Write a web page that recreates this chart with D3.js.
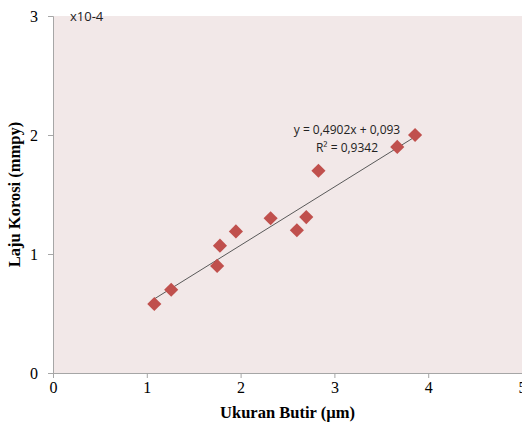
<!DOCTYPE html>
<html>
<head>
<meta charset="utf-8">
<script src="https://cdn.jsdelivr.net/npm/d3@7"></script>
<style>
  body { margin: 0; background: #fff; }
</style>
</head>
<body>
<svg></svg>
<script>
// ukuran butir (µm) dan laju korosi (x10-4 mmpy)
const ukuran = [1.08, 1.26, 1.75, 1.78, 1.95, 2.32, 2.60, 2.70, 2.83, 3.67, 3.86]
const laju = [0.58, 0.70, 0.90, 1.07, 1.19, 1.30, 1.20, 1.31, 1.70, 1.90, 2.00]
const xTicks = [0, 1, 2, 3, 4, 5]
const yTicks = [0, 1, 2, 3]
const slope = 0.4902
const intercept = 0.093

const width = 522
const height = 430
const margin = {top: 16, right: 0, bottom: 57, left: 53}

const x = d3.scaleLinear().domain([0, 5]).range([margin.left, width - margin.right])
const y = d3.scaleLinear().domain([0, 3]).range([height - margin.bottom, margin.top])

const svg = d3.select('svg').attr('width', width).attr('height', height)

// area plot
svg.append('rect')
  .attr('x', x(0)).attr('y', y(3))
  .attr('width', x(5) - x(0)).attr('height', y(0) - y(3))
  .attr('fill', '#F2E8E8')

// sumbu
const xAxis = d3.axisBottom(x).tickValues(xTicks).tickSize(5).tickPadding(4).tickFormat(d3.format('d'))
const yAxis = d3.axisLeft(y).tickValues(yTicks).tickSize(5).tickPadding(10).tickFormat(d3.format('d'))

const gx = svg.append('g').attr('transform', `translate(0,${y(0)})`).call(xAxis)
const gy = svg.append('g').attr('transform', `translate(${x(0)},0)`).call(yAxis)

for (const g of [gx, gy]) {
  g.select('.domain').attr('stroke', '#A6A6A6')
  g.selectAll('.tick line').attr('stroke', '#A6A6A6')
  g.selectAll('.tick text')
    .attr('font-family', '"Liberation Serif", "Times New Roman", serif')
    .attr('font-size', 16).attr('fill', '#000')
}

// garis tren
const xmin = d3.min(ukuran), xmax = d3.max(ukuran)
svg.append('line')
  .attr('x1', x(xmin)).attr('y1', y(slope * xmin + intercept))
  .attr('x2', x(xmax)).attr('y2', y(slope * xmax + intercept))
  .attr('stroke', '#595959').attr('stroke-width', 1)

// titik data
const diamond = d3.symbol().type(d3.symbolSquare).size(100)
svg.append('g').selectAll('path').data(ukuran).enter().append('path')
  .attr('d', diamond)
  .attr('transform', (d, i) => `translate(${x(d)},${y(laju[i])}) rotate(45)`)
  .attr('fill', '#C0504D')

// persamaan
const eq = svg.append('text')
  .attr('font-family', '"Open Sans", "Liberation Sans", sans-serif')
  .attr('font-size', 12).attr('fill', '#222').attr('text-anchor', 'middle')
eq.append('tspan').attr('x', 347).attr('y', 134).text('y = 0,4902x + 0,093')
eq.append('tspan').attr('x', 347).attr('y', 152).text('R² = 0,9342')

svg.append('text')
  .attr('x', 70).attr('y', 21)
  .attr('font-family', '"Open Sans", "Liberation Sans", sans-serif')
  .attr('font-size', 13).attr('fill', '#222')
  .text('x10-4')

// judul sumbu
svg.append('text')
  .attr('x', (x(0) + x(5)) / 2).attr('y', 418)
  .attr('text-anchor', 'middle')
  .attr('font-family', '"Liberation Serif", "Times New Roman", serif')
  .attr('font-size', 16.5).attr('font-weight', 'bold')
  .text('Ukuran Butir (µm)')

svg.append('text')
  .attr('transform', `translate(20,${(y(0) + y(3)) / 2}) rotate(-90)`)
  .attr('text-anchor', 'middle')
  .attr('font-family', '"Liberation Serif", "Times New Roman", serif')
  .attr('font-size', 16.5).attr('font-weight', 'bold')
  .text('Laju Korosi (mmpy)')
</script>
</body>
</html>
